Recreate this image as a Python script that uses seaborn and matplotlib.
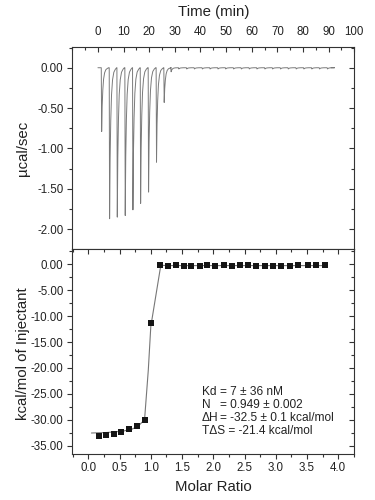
import matplotlib
matplotlib.use("Agg")
import matplotlib.pyplot as plt
import seaborn as sns
import pandas as pd
from matplotlib.ticker import MultipleLocator, FormatStrFormatter

# ---------------- data ----------------
# raw thermogram: injection times (min) and peak minima (ucal/sec)
inj_time = [1.3, 4.4, 7.4, 10.5, 13.5, 16.5, 19.6, 22.7, 25.7, 28.4,
            31.4, 34.5, 37.5, 40.6, 43.6, 46.7, 49.7, 52.8, 55.8, 58.9,
            61.9, 65.0, 68.0, 71.1, 74.1, 77.2, 80.2, 83.3, 86.3, 89.4]
peak_min = [-0.79, -1.87, -1.85, -1.83, -1.76, -1.68, -1.54, -1.17, -0.43, -0.05,
            -0.015, -0.015, -0.015, -0.015, -0.015, -0.015, -0.015, -0.015, -0.015, -0.015,
            -0.015, -0.015, -0.015, -0.015, -0.015, -0.015, -0.015, -0.015, -0.015, -0.015]
# shape of one injection peak (time after injection, fraction of minimum)
shape_dt = [0.0, 0.15, 0.35, 0.6, 0.9, 1.3, 1.8, 2.4, 2.9]
shape_frac = [0.0, 1.0, 0.6, 0.35, 0.18, 0.08, 0.03, 0.01, 0.0]
trace_end = 91.0

# integrated heats
molar_ratio = [0.17, 0.29, 0.41, 0.53, 0.65, 0.78, 0.90, 1.01,
               1.14, 1.27, 1.40, 1.53, 1.65, 1.78, 1.90, 2.03, 2.17, 2.30, 2.43,
               2.56, 2.69, 2.82, 2.95, 3.08, 3.22, 3.36, 3.51, 3.64, 3.78]
heat = [-33.07, -32.88, -32.80, -32.40, -31.85, -31.27, -30.00, -11.40,
        -0.20, -0.33, -0.20, -0.39, -0.33, -0.26, -0.20, -0.33, -0.20, -0.33, -0.14,
        -0.14, -0.33, -0.26, -0.26, -0.26, -0.26, -0.20, -0.07, -0.20, -0.20]

# fitted curve
fit_x = [0.05, 0.30, 0.55, 0.70, 0.80, 0.90, 0.96, 1.00, 1.16, 1.30, 3.78]
fit_y = [-32.55, -32.45, -32.2, -31.8, -31.2, -30.0, -20.4, -12.0, -0.2, -0.25, -0.25]

fit_labels = ["Kd", "N", "\u0394H"]
fit_values = ["= 7 \u00b1 36 nM", "= 0.949 \u00b1 0.002", "= -32.5 \u00b1 0.1 kcal/mol"]
fit_last = "T\u0394S = -21.4 kcal/mol"

# ---------------- style ----------------
sns.set_style("ticks")
plt.rcParams["font.family"] = ["Liberation Sans", "DejaVu Sans"]
plt.rcParams["axes.unicode_minus"] = False
TXT = "#222222"
SP = "#333333"

fig = plt.figure(figsize=(3.75, 5), dpi=100)
ax1 = fig.add_axes([0.1928, 0.502, 0.752, 0.4034])
ax2 = fig.add_axes([0.1928, 0.092, 0.752, 0.410])

# build the thermogram polyline from injection list
t_pts, p_pts = [0.0], [0.0]
for t0, pm in zip(inj_time, peak_min):
    for dt, fr in zip(shape_dt, shape_frac):
        t_pts.append(t0 + dt)
        p_pts.append(pm * fr)
t_pts.append(trace_end)
p_pts.append(0.0)
thermo = pd.DataFrame({"time": t_pts, "power": p_pts})

sns.lineplot(data=thermo, x="time", y="power", sort=False, estimator=None,
             ax=ax1, color="#7a7a7a", linewidth=0.7)

fit_df = pd.DataFrame({"x": fit_x, "y": fit_y})
sns.lineplot(data=fit_df, x="x", y="y", sort=False, estimator=None,
             ax=ax2, color="#777777", linewidth=0.8)
pts = pd.DataFrame({"mr": molar_ratio, "h": heat})
sns.scatterplot(data=pts, x="mr", y="h", marker="s", s=24, color="#151515",
                linewidth=0, ax=ax2, zorder=3)

# ---------------- axes styling ----------------
for ax in (ax1, ax2):
    for s in ax.spines.values():
        s.set_visible(True)
        s.set_linewidth(0.8)
        s.set_color(SP)
    ax.set_xlabel("")
    ax.set_ylabel("")

# top panel
ax1.set_xlim(-10, 100)
ax1.set_ylim(-2.245, 0.253)
ax1.xaxis.tick_top()
ax1.xaxis.set_minor_locator(MultipleLocator(5))
ax1.set_xticks(list(range(0, 101, 10)))
ax1.xaxis.set_major_formatter(FormatStrFormatter("%d"))
ax1.tick_params(axis="x", which="both", top=True, bottom=False, labeltop=True,
                labelbottom=False, direction="in", colors=SP, labelcolor=TXT,
                labelsize=8.3, pad=6.5)
ax1.tick_params(axis="x", which="major", length=3.5, width=0.8)
ax1.tick_params(axis="x", which="minor", length=2.0, width=0.8)
ax1.yaxis.set_major_locator(MultipleLocator(0.5))
ax1.yaxis.set_minor_locator(MultipleLocator(0.25))
ax1.yaxis.set_major_formatter(FormatStrFormatter("%.2f"))
ax1.tick_params(axis="y", which="both", left=True, right=False, direction="out",
                colors=SP, labelcolor=TXT, labelsize=8.3, pad=2.8)
ax1.tick_params(axis="y", which="major", length=3.5, width=0.8)
ax1.tick_params(axis="y", which="minor", length=2.0, width=0.8)
r1 = ax1.secondary_yaxis("right")
r1.yaxis.set_major_locator(MultipleLocator(0.5))
r1.yaxis.set_minor_locator(MultipleLocator(0.25))
r1.tick_params(axis="y", which="both", direction="in", labelright=False, colors=SP)
r1.tick_params(axis="y", which="major", length=3.5, width=0.8)
r1.tick_params(axis="y", which="minor", length=2.0, width=0.8)
r1.spines["right"].set_visible(False)

# bottom panel
ax2.set_xlim(-0.256, 4.256)
ax2.set_ylim(-36.6, 2.95)
ax2.xaxis.set_minor_locator(MultipleLocator(0.25))
ax2.set_xticks([0.0, 0.5, 1.0, 1.5, 2.0, 2.5, 3.0, 3.5, 4.0])
ax2.xaxis.set_major_formatter(FormatStrFormatter("%.1f"))
ax2.tick_params(axis="x", which="both", bottom=True, top=False, direction="out",
                colors=SP, labelcolor=TXT, labelsize=8.3, pad=2.5)
ax2.tick_params(axis="x", which="major", length=3.5, width=0.8)
ax2.tick_params(axis="x", which="minor", length=2.0, width=0.8)
t2 = ax2.secondary_xaxis("top")
t2.xaxis.set_major_locator(MultipleLocator(0.5))
t2.xaxis.set_minor_locator(MultipleLocator(0.25))
t2.tick_params(axis="x", which="both", direction="in", labeltop=False, colors=SP)
t2.tick_params(axis="x", which="major", length=3.5, width=0.8)
t2.tick_params(axis="x", which="minor", length=2.0, width=0.8)
t2.spines["top"].set_visible(False)

ax2.yaxis.set_minor_locator(MultipleLocator(2.5))
ax2.set_yticks([0, -5, -10, -15, -20, -25, -30, -35])
ax2.yaxis.set_major_formatter(FormatStrFormatter("%.2f"))
ax2.tick_params(axis="y", which="both", left=True, right=False, direction="out",
                colors=SP, labelcolor=TXT, labelsize=8.3, pad=2.8)
ax2.tick_params(axis="y", which="major", length=3.5, width=0.8)
ax2.tick_params(axis="y", which="minor", length=2.0, width=0.8)
r2 = ax2.secondary_yaxis("right")
r2.yaxis.set_major_locator(MultipleLocator(5))
r2.yaxis.set_minor_locator(MultipleLocator(2.5))
r2.tick_params(axis="y", which="both", direction="in", labelright=False, colors=SP)
r2.tick_params(axis="y", which="major", length=3.5, width=0.8)
r2.tick_params(axis="y", which="minor", length=2.0, width=0.8)
r2.spines["right"].set_visible(False)

# fit parameter text
ys = [-24.6, -27.1, -29.6]
for lab, val, yy in zip(fit_labels, fit_values, ys):
    ax2.text(1.819, yy, lab, fontsize=8.6, color=TXT, va="center", ha="left")
    ax2.text(2.11, yy, val, fontsize=8.6, color=TXT, va="center", ha="left")
ax2.text(1.819, -32.1, fit_last, fontsize=8.6, color=TXT, va="center", ha="left")

# axis titles
fig.text(0.569, 0.976, "Time (min)", fontsize=10.8, color=TXT, ha="center", va="center")
fig.text(0.569, 0.026, "Molar Ratio", fontsize=10.8, color=TXT, ha="center", va="center")
fig.text(0.062, 0.704, "\u00b5cal/sec", fontsize=10.8, color=TXT, ha="center",
         va="center", rotation=90)
fig.text(0.062, 0.292, "kcal/mol of Injectant", fontsize=10.8, color=TXT,
         ha="center", va="center", rotation=90)

fig.savefig("out.png", dpi=100)
